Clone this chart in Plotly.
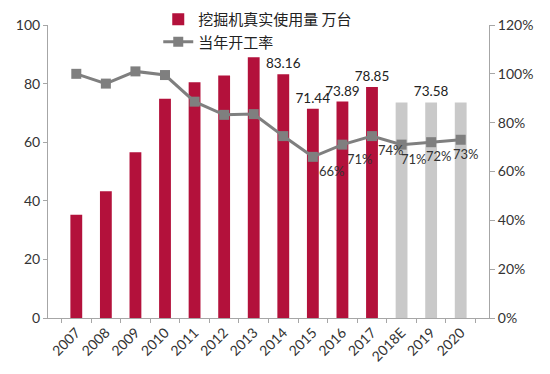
import plotly.graph_objects as go

years = ["2007", "2008", "2009", "2010", "2011", "2012", "2013", "2014",
         "2015", "2016", "2017", "2018E", "2019", "2020"]
usage = [35.2, 43.3, 56.6, 74.8, 80.5, 82.8, 89.0, 83.16,
         71.44, 73.89, 78.85, 73.58, 73.58, 73.58]
usage_labels = ["", "", "", "", "", "", "", "83.16",
                "71.44", "73.89", "78.85", "", "73.58", ""]
rate = [1.00, 0.96, 1.01, 0.995, 0.886, 0.832, 0.835, 0.745,
        0.66, 0.71, 0.745, 0.71, 0.72, 0.73]
rate_labels = ["", "", "", "", "", "", "", "",
               "66%", "71%", "74%", "71%", "72%", "73%"]
forecast = ["2018E", "2019", "2020"]

RED = "#B3113B"
GRAY_BAR = "#C9C9C9"
bar_colors = [GRAY_BAR if y in forecast else RED for y in years]
# horizontal nudge of each percent label relative to its marker (style only)
label_xshift = [0, 0, 0, 0, 0, 0, 0, 0, 4, 3, 4, -3, -7, -10]

FONT = "Lato, Noto Sans CJK SC, sans-serif"
CJK = "Noto Sans CJK SC, sans-serif"

fig = go.Figure()
fig.add_trace(go.Bar(
    x=years, y=usage, name="挖掘机真实使用量 万台",
    marker=dict(color=bar_colors, line=dict(width=0)),
    text=usage_labels, textposition="outside", constraintext="none",
    textfont=dict(size=13.5, color="#222222", family=FONT),
    cliponaxis=False, yaxis="y",
))
fig.add_trace(go.Scatter(
    x=years, y=rate, name="当年开工率", mode="lines+markers",
    line=dict(color="#7F7F7F", width=3),
    marker=dict(symbol="square", size=10, color="#7F7F7F"),
    cliponaxis=False, yaxis="y2",
))

annotations = []
for i, (r, lab, dx) in enumerate(zip(rate, rate_labels, label_xshift)):
    if not lab:
        continue
    # category index i on the category x axis
    annotations.append(dict(
        x=i, y=r, xref="x", yref="y2", text=lab, showarrow=False,
        xanchor="left", yanchor="middle", xshift=dx, yshift=-14,
        font=dict(size=13, color="#333333", family=FONT),
    ))

# page body adds an 8px offset; figure is sized to fit the 550x374 window
fig.update_layout(
    width=542, height=366,
    margin=dict(l=40, r=61, t=17, b=56, autoexpand=False),
    paper_bgcolor="white", plot_bgcolor="white",
    bargap=0.6,
    showlegend=True,
    annotations=annotations,
    legend=dict(x=0.25, y=1.075, xanchor="left", yanchor="top",
                font=dict(size=15, family=CJK, color="#222222"),
                bgcolor="rgba(0,0,0,0)", itemwidth=30, tracegroupgap=0),
    xaxis=dict(type="category", showgrid=False, showline=True,
               linecolor="#A6A6A6", ticks="outside", tickson="boundaries",
               tickcolor="#A6A6A6", ticklen=4, tickangle=-45,
               tickfont=dict(size=14, family=FONT, color="#333333")),
    yaxis=dict(range=[0, 100], dtick=20, showgrid=False, showline=True,
               linecolor="#A6A6A6", ticks="outside", tickcolor="#A6A6A6",
               ticklen=4, zeroline=False,
               tickfont=dict(size=14, family=FONT, color="#333333")),
    yaxis2=dict(range=[0, 1.2], dtick=0.2, tickformat=".0%", overlaying="y",
                side="right", showgrid=False, showline=True,
                linecolor="#A6A6A6", ticks="outside", tickcolor="#A6A6A6",
                ticklen=5, zeroline=False,
                tickfont=dict(size=14, family=FONT, color="#333333")),
)

fig.write_html("out.html")
